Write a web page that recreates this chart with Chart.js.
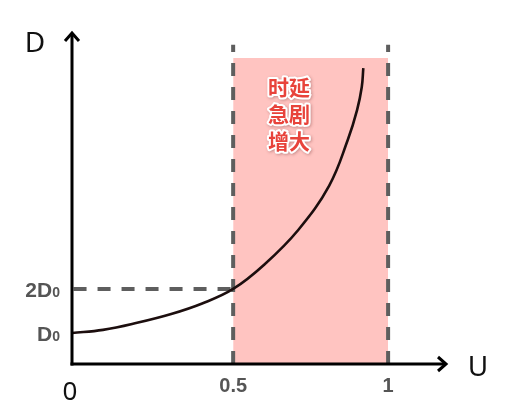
<!DOCTYPE html>
<html><head><meta charset="utf-8">
<script src="https://cdn.jsdelivr.net/npm/chart.js@4"></script>
<style>html,body{margin:0;padding:0;background:#fff}#wrap{width:505px;height:414px}</style>
</head><body><div id="wrap"><canvas id="c" width="505" height="414"></canvas></div>
<script>
// Utilization U (x) and delay D in units of D0 (y)
const curveU = [-0.02, 0.08, 0.19, 0.30, 0.40, 0.50, 0.60, 0.71, 0.81, 0.87, 0.90, 0.915, 0.92];
const curveD = [1.00, 1.07, 1.23, 1.43, 1.67, 2.00, 2.55, 3.34, 4.35, 5.39, 6.07, 6.59, 7.02];
const regionU = [0.5, 1];           // shaded region
const regionTop = 7.25;
const dashTop = 7.55;
const xTickValues = [0, 0.5, 1];
const xTickLabels = ['0', '0.5', '1'];
const yTickValues = [1, 2];
const yTickLabels = [['', 'D', '0'], ['2', 'D', '0']];
const regionText = ['时延', '急剧', '增大'];
const xMin = -0.02, xMax = 1.19, yMin = 0.295, yMax = 7.84;

const curve = curveU.map((u, i) => ({x: u, y: curveD[i]}));
const dashStyle = {borderColor: '#5e5e5e', borderWidth: 4, borderDash: [13, 11], pointRadius: 0, fill: false, tension: 0};

const annot = {
  id: 'annot',
  afterDatasetsDraw(chart) {
    const ctx = chart.ctx, xs = chart.scales.x, ys = chart.scales.y;
    const x0 = xs.left, y0 = ys.bottom, xe = xs.right, ye = ys.top;
    ctx.save();
    // axes
    ctx.strokeStyle = '#000'; ctx.lineWidth = 3; ctx.lineCap = 'butt';
    ctx.beginPath(); ctx.moveTo(x0, y0 + 1.5); ctx.lineTo(x0, ye + 1); ctx.stroke();
    ctx.beginPath(); ctx.moveTo(x0 - 1.5, y0); ctx.lineTo(xe - 1, y0); ctx.stroke();
    ctx.lineJoin = 'miter'; ctx.lineWidth = 3;
    ctx.beginPath(); ctx.moveTo(x0 - 7, ye + 9); ctx.lineTo(x0, ye + 1); ctx.lineTo(x0 + 7, ye + 9); ctx.stroke();
    ctx.beginPath(); ctx.moveTo(xe - 9, y0 - 7); ctx.lineTo(xe - 1, y0); ctx.lineTo(xe - 9, y0 + 7); ctx.stroke();
    // axis titles
    ctx.fillStyle = '#111'; ctx.textAlign = 'center'; ctx.textBaseline = 'middle';
    ctx.font = '28px "Noto Sans", sans-serif';
    ctx.fillText('D', 35, 44);
    ctx.fillText('U', 478, 368);
    // x tick labels
    xTickValues.forEach((v, i) => {
      if (v === 0) {
        ctx.fillStyle = '#111'; ctx.font = '26px "Noto Sans", sans-serif';
        ctx.fillText(xTickLabels[i], x0 - 2, 393);
      } else {
        ctx.fillStyle = '#555'; ctx.font = 'bold 20px "Liberation Sans", sans-serif';
        ctx.fillText(xTickLabels[i], xs.getPixelForValue(v), 386);
      }
    });
    // y tick labels with small subscript 0
    ctx.textAlign = 'left'; ctx.textBaseline = 'alphabetic'; ctx.fillStyle = '#555';
    yTickValues.forEach((v, i) => {
      const [pre, main, sub] = yTickLabels[i];
      const py = ys.getPixelForValue(v);
      ctx.font = 'bold 21px "Liberation Sans", sans-serif';
      const w1 = ctx.measureText(pre + main).width;
      ctx.font = 'bold 14px "Liberation Sans", sans-serif';
      const w2 = ctx.measureText(sub).width;
      const right = 60, start = right - w1 - w2, base = py + 8;
      ctx.font = 'bold 21px "Liberation Sans", sans-serif';
      ctx.fillText(pre + main, start, base);
      ctx.font = 'bold 14px "Liberation Sans", sans-serif';
      ctx.fillText(sub, start + w1, base);
    });
    // region text
    ctx.textAlign = 'center'; ctx.textBaseline = 'middle';
    ctx.font = 'bold 21px "Noto Sans CJK SC", sans-serif';
    const cx = 289;
    regionText.forEach((t, i) => {
      const py = 87 + i * 27;
      ctx.save();
      ctx.shadowColor = 'rgba(120,60,60,0.4)'; ctx.shadowBlur = 3; ctx.shadowOffsetX = 1; ctx.shadowOffsetY = 1.5;
      ctx.strokeStyle = '#fff'; ctx.lineWidth = 4; ctx.lineJoin = 'round';
      ctx.strokeText(t, cx, py);
      ctx.restore();
      ctx.fillStyle = '#e8433b';
      ctx.fillText(t, cx, py);
    });
    ctx.restore();
  }
};

new Chart(document.getElementById('c'), {
  type: 'line',
  data: {
    datasets: [
      {data: curve, borderColor: '#1c0e0e', borderWidth: 2.6, pointRadius: 0, fill: false,
       tension: 0.4, order: 0},
      Object.assign({data: [{x: regionU[0], y: yMin}, {x: regionU[0], y: dashTop}], order: 1}, dashStyle),
      Object.assign({data: [{x: regionU[1], y: yMin}, {x: regionU[1], y: dashTop}], order: 1}, dashStyle),
      Object.assign({data: [{x: xMin + 0.005, y: 2}, {x: regionU[0], y: 2}], order: 1}, dashStyle),
      {data: regionU.map(u => ({x: u, y: regionTop})), borderWidth: 0, borderColor: 'rgba(0,0,0,0)',
       backgroundColor: '#ffc4c1', fill: 'start', pointRadius: 0, order: 2}
    ]
  },
  options: {
    responsive: false, animation: false, devicePixelRatio: 1,
    layout: {padding: {left: 72, top: 32, right: 58, bottom: 50}},
    plugins: {legend: {display: false}, tooltip: {enabled: false}},
    scales: {
      x: {type: 'linear', min: xMin, max: xMax, display: true,
          grid: {display: false}, border: {display: false}, ticks: {display: false},
          afterFit(s) { s.height = 0; }},
      y: {type: 'linear', min: yMin, max: yMax, display: true,
          grid: {display: false}, border: {display: false}, ticks: {display: false},
          afterFit(s) { s.width = 0; }}
    }
  },
  plugins: [annot]
});
</script>
</body></html>
